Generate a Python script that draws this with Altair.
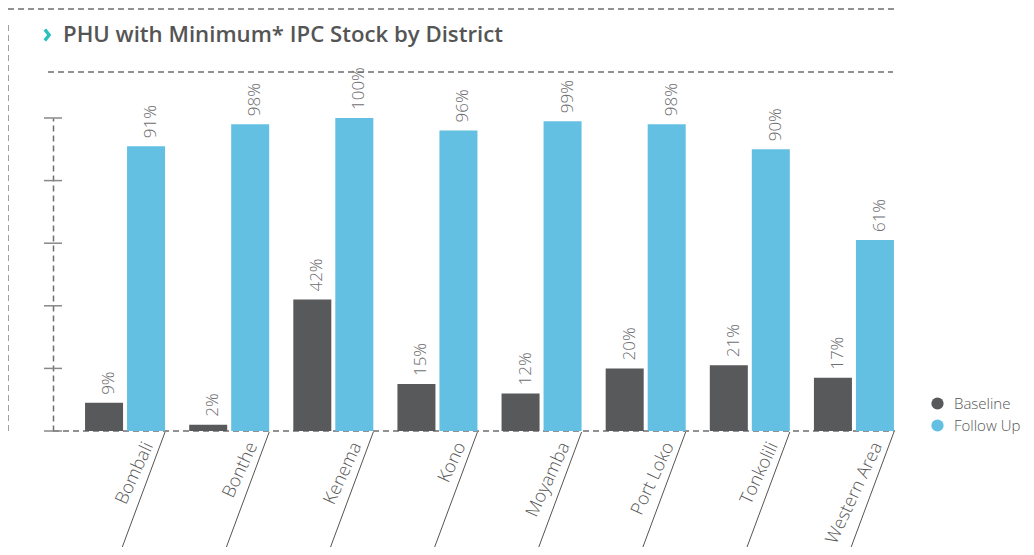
import altair as alt
import pandas as pd

districts = ["Bombali", "Bonthe", "Kenema", "Kono", "Moyamba", "Port Loko", "Tonkolili", "Western Area"]
baseline = [9, 2, 42, 15, 12, 20, 21, 17]
follow_up = [91, 98, 100, 96, 99, 98, 90, 61]
series = ["Baseline", "Follow Up"]
colors = ["#58595B", "#63C0E2"]
y_ticks = [0, 20, 40, 60, 80, 100]
title_text = "PHU with Minimum* IPC Stock by District"

rows = []
for d, b, f in zip(districts, baseline, follow_up):
    rows.append({"district": d, "series": series[0], "value": b, "label": f"{b}%"})
    rows.append({"district": d, "series": series[1], "value": f, "label": f"{f}%"})
df = pd.DataFrame(rows)
lines_df = pd.DataFrame({"pos": [i + 0.5 for i in range(len(districts))]})
one = pd.DataFrame({"a": [0]})
ticks_df = pd.DataFrame({"t": y_ticks})

W, H = 833, 313
DASH = [6, 4]
GRAY = "#6d6e70"
FONT = "Open Sans"

yscale = alt.Scale(domain=[0, 100], nice=False, zero=True)
x_axis = alt.Axis(title=None, labelAngle=295, labelAlign="right", labelBaseline="middle",
                  labelFont=FONT, labelFontWeight=300, labelFontSize=18, labelColor="#555555",
                  labelOffset=24, labelPadding=12, labelOverlap=False, labelLimit=0,
                  domain=False, ticks=False, grid=False)
x_enc = alt.X("district:N", sort=districts, scale=alt.Scale(paddingInner=0, paddingOuter=0), axis=x_axis)
xoff = alt.XOffset("series:N", sort=series, scale=alt.Scale(paddingInner=0.095, paddingOuter=0.287))

bars = alt.Chart(df).mark_bar().encode(
    x=x_enc,
    xOffset=xoff,
    y=alt.Y("value:Q", scale=yscale,
            axis=alt.Axis(title=None, labels=False, ticks=False, grid=False, offset=20,
                          domainDash=DASH, domainColor=GRAY, domainWidth=1.5)),
    color=alt.Color("series:N", sort=series, scale=alt.Scale(domain=series, range=colors),
                    legend=alt.Legend(title=None, orient="none", legendX=857, legendY=278,
                                      symbolType="circle", symbolSize=150, symbolStrokeWidth=0,
                                      labelFont=FONT, labelFontWeight=300, labelFontSize=15,
                                      labelColor="#555555", labelOffset=9, rowPadding=6)),
)

vals = alt.Chart(df).mark_text(angle=270, align="left", baseline="middle", dx=8, dy=5,
                               font=FONT, fontWeight=300, fontSize=17, color="#6d6e70").encode(
    x=x_enc, xOffset=xoff, y=alt.Y("value:Q", scale=yscale), text="label:N")

tick_marks = alt.Chart(ticks_df).mark_rule(color="#888888", strokeWidth=1.5).encode(
    y=alt.Y("t:Q", scale=yscale), x=alt.value(-29), x2=alt.value(-11))

def hline(x1, x2, y):
    return alt.Chart(one).mark_rule(color=GRAY, strokeWidth=1.3, strokeDash=DASH).encode(
        x=alt.value(x1), x2=alt.value(x2), y=alt.value(y))

def vline(x, y1, y2):
    return alt.Chart(one).mark_rule(color=GRAY, strokeWidth=1.3, strokeDash=DASH).encode(
        x=alt.value(x), y=alt.value(y1), y2=alt.value(y2))

deco = alt.layer(
    hline(-65, 822, -109),
    vline(-65, -93, 313),
    hline(-25, 820, -46),
    hline(-20, 822, 313),
)

chevron = alt.Chart(one).mark_point(shape="M-0.35,-0.9L0.35,0L-0.35,0.9", filled=False,
                                    strokeWidth=3.4, color="#2BBFC0", size=150, opacity=1).encode(
    x=alt.value(-26), y=alt.value(-83))
title = alt.Chart(one).mark_text(align="left", baseline="alphabetic", font=FONT,
                                 fontWeight=600, fontSize=22.2, color="#555555").encode(
    x=alt.value(-10), y=alt.value(-76), text=alt.value(title_text))

main = alt.layer(deco, tick_marks, bars, vals, chevron, title)

slants = alt.Chart(lines_df).mark_rule(color="#555555", strokeWidth=1, xOffset=40, x2Offset=-5).encode(
    x=alt.X("pos:Q", scale=alt.Scale(domain=[0, len(districts)], nice=False, zero=False), axis=None),
    x2="pos:Q",
    y=alt.value(H + 1), y2=alt.value(H + 122))

chart = alt.layer(main, slants).resolve_scale(x="independent").properties(
    width=W, height=H,
    padding={"left": 65, "top": 110, "right": 120, "bottom": 116},
    autosize=alt.AutoSizeParams(type="none"),
    background="white",
).configure_view(stroke=None)

chart.save("out.html", embed_options={"renderer": "svg", "actions": False})
